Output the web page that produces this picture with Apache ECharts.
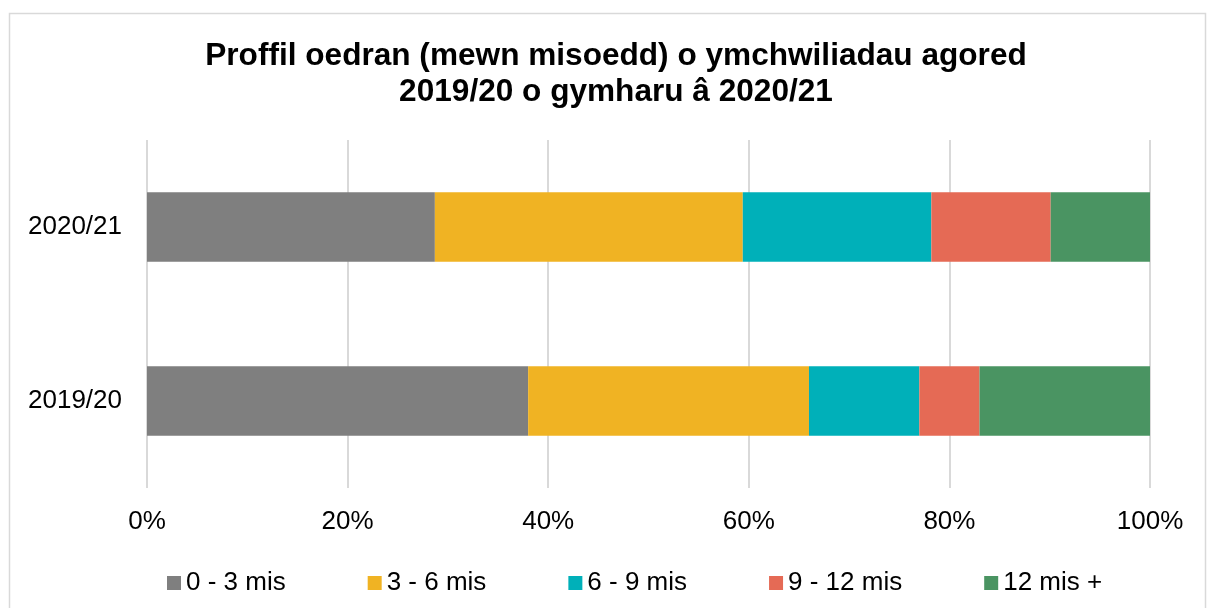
<!DOCTYPE html>
<html>
<head>
<meta charset="utf-8">
<script src="https://cdn.jsdelivr.net/npm/echarts@6/dist/echarts.min.js"></script>
<style>
	html, body { margin: 0; padding: 0; background: #fff; }
	#chart { width: 1208px; height: 608px; }
</style>
</head>
<body>
<div id="chart"></div>
<script>
	var years = ['2019/20', '2020/21'];
	var seriesNames = ['0 - 3 mis', '3 - 6 mis', '6 - 9 mis', '9 - 12 mis', '12 mis +'];
	var m0to3 = [38.0, 28.7];
	var m3to6 = [28.0, 30.7];
	var m6to9 = [11.0, 18.8];
	var m9to12 = [6.0, 11.9];
	var m12plus = [17.0, 9.9];
	var colors = ['#7f7f7f', '#f0b323', '#00b0b9', '#e56a55', '#4a9462'];

	var values = [m0to3, m3to6, m6to9, m9to12, m12plus];
	var font = '"Liberation Sans", Arial, sans-serif';

	var series = [];
	for (var i = 0; i < seriesNames.length; i++) {
		series.push({
			name: seriesNames[i],
			type: 'bar',
			stack: 'total',
			barWidth: '40%',
			data: values[i],
			itemStyle: {
				color: colors[i]
			}
		});
	}

	var option = {
		animation: false,
		color: colors,
		title: {
			text: 'Proffil oedran (mewn misoedd) o ymchwiliadau agored\n2019/20 o gymharu â 2020/21',
			left: 611,
			textAlign: 'center',
			top: 33,
			textStyle: {
				fontFamily: font,
				fontSize: 31.6,
				fontWeight: 'bold',
				color: '#000',
				lineHeight: 36
			}
		},
		legend: {
			top: 565,
			left: 162,
			itemWidth: 14,
			itemHeight: 14,
			itemGap: 82,
			icon: 'rect',
			textStyle: {
				fontFamily: font,
				fontSize: 26,
				color: '#000'
			}
		},
		grid: {
			left: 147,
			right: 58,
			top: 140,
			bottom: 120
		},
		xAxis: {
			type: 'value',
			min: 0,
			max: 100,
			interval: 20,
			axisLine: { show: false },
			axisTick: { show: false },
			splitLine: {
				lineStyle: { color: '#d9d9d9', width: 2 }
			},
			axisLabel: {
				formatter: '{value}%',
				fontFamily: font,
				fontSize: 26,
				color: '#000',
				margin: 21
			}
		},
		yAxis: {
			type: 'category',
			data: years,
			axisLine: { show: false },
			axisTick: { show: false },
			axisLabel: {
				fontFamily: font,
				fontSize: 26,
				color: '#000',
				margin: 25
			}
		},
		graphic: [{
			type: 'rect',
			shape: { x: 9.5, y: 13.5, width: 1196, height: 600 },
			style: { fill: 'none', stroke: '#d9d9d9', lineWidth: 1.5 },
			silent: true,
			z: -1
		}],
		series: series
	};

	var chart = echarts.init(document.getElementById('chart'));
	chart.setOption(option);
</script>
</body>
</html>
